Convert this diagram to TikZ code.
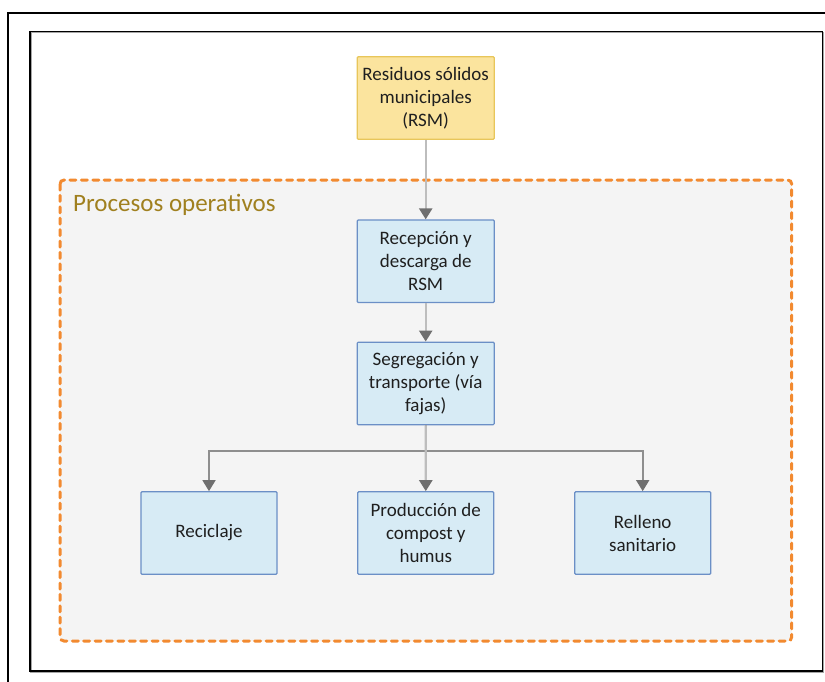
\documentclass[tikz,border=0pt]{standalone}
\usepackage{fontspec}
\setmainfont{Carlito}
\usetikzlibrary{arrows.meta}

\definecolor{fillblue}{HTML}{D7EBF5}
\definecolor{edgeblue}{HTML}{6B8FC6}
\definecolor{fillyellow}{HTML}{FBE49E}
\definecolor{edgeyellow}{HTML}{E8C65A}
\definecolor{groupfill}{HTML}{F4F4F4}
\definecolor{grouporange}{HTML}{F28A30}
\definecolor{titlegold}{HTML}{A0801F}
\definecolor{linelight}{HTML}{BDBDBD}
\definecolor{linedark}{HTML}{8E8E8E}
\definecolor{tipgray}{HTML}{6F6F6F}

\begin{document}
\begin{tikzpicture}[x=1pt,y=-1pt,
  stepbox/.style={draw=edgeblue, fill=fillblue, line width=1.2pt, rounded corners=1pt,
    minimum width=137pt, minimum height=82.5pt, inner sep=0pt, align=center,
    font=\fontsize{19}{23}\selectfont, text=black!88},
  sourcebox/.style={stepbox, draw=edgeyellow, fill=fillyellow},
  flow/.style={draw=linelight, line width=2.4pt,
    -{Triangle[width=13pt,length=11pt,color=tipgray,fill=tipgray]}},
  branch/.style={draw=linedark, line width=1.6pt,
    -{Triangle[width=13pt,length=11pt,color=tipgray,fill=tipgray]}},
  group/.style={draw=grouporange, fill=groupfill, line width=3pt, rounded corners=4pt,
    dash pattern=on 6pt off 5.4pt, line cap=round},
  grouptitle/.style={anchor=base west, inner sep=0pt, text=titlegold,
    font=\fontsize{25}{29}\selectfont}
]
\clip (0,0) rectangle (825,681);
\fill[white] (0,0) rectangle (825,681);

% outer page frame
\draw[line width=1.6pt] (8,690) -- (8,13) -- (835,13);

% inner frame with a soft shadow
\draw[line width=1.2pt, black!35] (31,32.5) rectangle (823.7,672);
\draw[line width=1.1pt] (30,31.5) rectangle (822.7,671);

% group of operating processes
\draw[group] (60,180) rectangle (791.7,641);
\node[grouptitle] (title) at (73,211.5) {Procesos operativos};

% process boxes
\node[sourcebox] (rsm) at (425.7,98) {Residuos sólidos\\municipales\\(RSM)};
\node[stepbox] (recep) at (425.7,261.2) {Recepción y\\descarga de\\RSM};
\node[stepbox] (segr) at (425.7,383.4) {Segregación y\\transporte (vía\\fajas)};
\node[stepbox, minimum width=136pt] (recic) at (209,533) {Reciclaje};
\node[stepbox, minimum width=136pt] (compost) at (425.8,533) {Producción de\\compost y\\humus};
\node[stepbox, minimum width=136pt] (relleno) at (642.7,533) {Relleno\\sanitario};

% connectors
\coordinate (fork) at (425.7,451);
\draw[branch] (segr.south) -- (fork) -| (recic.north);
\draw[branch] (segr.south) -- (fork) -| (relleno.north);
\draw[flow] (rsm.south) -- (recep.north);
\draw[flow] (recep.south) -- (segr.north);
\draw[flow] (segr.south) -- (compost.north);
\end{tikzpicture}
\end{document}
